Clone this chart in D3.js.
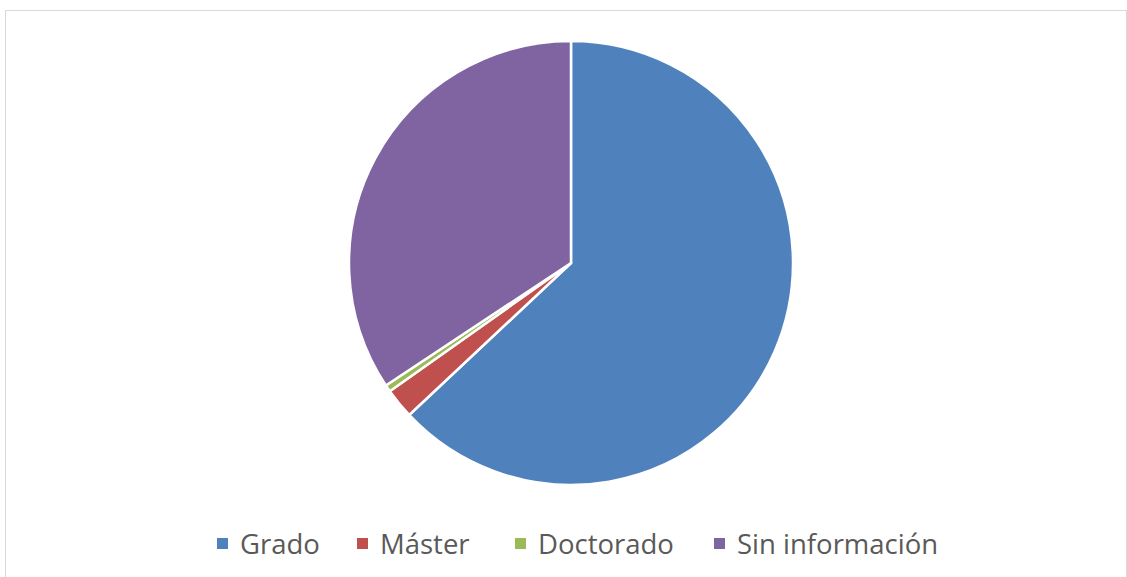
<!DOCTYPE html>
<html>
<head>
<meta charset="utf-8">
<script src="https://cdn.jsdelivr.net/npm/d3@7"></script>
<style>
  body { margin: 0; background: #fff; }
  svg { display: block; }
</style>
</head>
<body>
<svg id="chart" width="1127" height="577"></svg>
<script>
// data (share of total, %)
const categories = ["Grado", "Máster", "Doctorado", "Sin información"];
const values = [63.0, 2.2, 0.5, 34.3];
const colors = ["#4f81bd", "#c0504d", "#9bbb59", "#8064a2"];

const width = 1127, height = 577;
const cx = 571, cy = 263, radius = 222;

const svg = d3.select("#chart");

// chart area border
svg.append("rect")
  .attr("x", 5.5)
  .attr("y", 10.5)
  .attr("width", 1121)
  .attr("height", 570)
  .attr("fill", "#fff")
  .attr("stroke", "#d9d9d9")
  .attr("stroke-width", 1);

const pie = d3.pie().sort(null).value((d) => d);
const arc = d3.arc().innerRadius(0).outerRadius(radius);

const g = svg.append("g").attr("transform", `translate(${cx},${cy})`);

g.selectAll("path")
  .data(pie(values))
  .join("path")
  .attr("d", arc)
  .attr("fill", (d, i) => colors[i])
  .attr("stroke", "#fff")
  .attr("stroke-width", 2.5)
  .attr("stroke-linejoin", "round");

// legend
const legendX = [217, 357, 515, 714];
const legend = svg.append("g").attr("font-family", "'Open Sans', sans-serif");

const items = legend.selectAll("g")
  .data(categories)
  .join("g")
  .attr("transform", (d, i) => `translate(${legendX[i]},0)`);

items.append("rect")
  .attr("x", 0)
  .attr("y", 538)
  .attr("width", 11)
  .attr("height", 11)
  .attr("fill", (d, i) => colors[i]);

items.append("text")
  .attr("x", 23)
  .attr("y", 554)
  .attr("font-size", 27.5)
  .attr("fill", "#595959")
  .text((d) => d);
</script>
</body>
</html>
